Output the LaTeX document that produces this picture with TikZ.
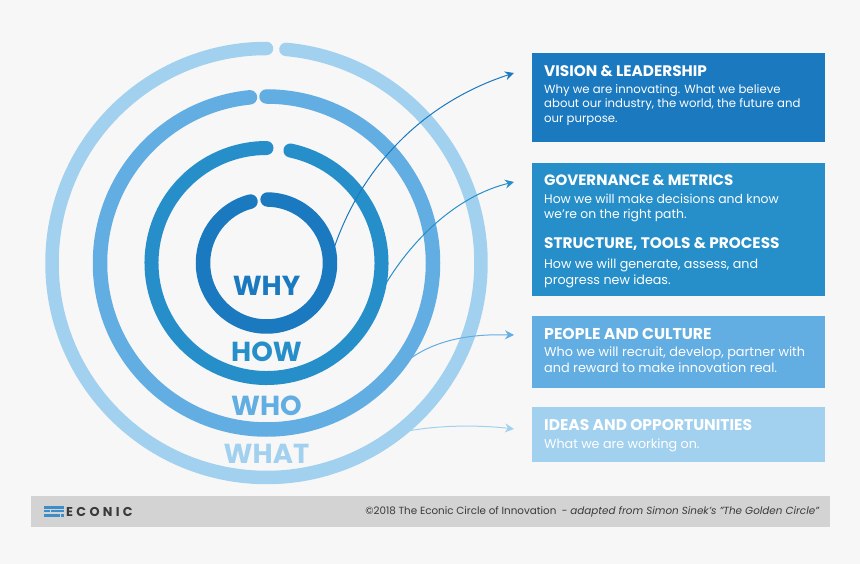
\documentclass[tikz,border=0pt]{standalone}
\usepackage{fontspec}
\setmainfont{Poppins}
\newfontfamily\econfont[LetterSpace=26]{Poppins}
\usetikzlibrary{arrows.meta}
\definecolor{bgc}{HTML}{F7F7F7}
\definecolor{cwhy}{HTML}{1B79BF}
\definecolor{chow}{HTML}{268FC9}
\definecolor{cwho}{HTML}{62ADE2}
\definecolor{cwhat}{HTML}{A2D1EF}
\definecolor{cfoot}{HTML}{D3D3D3}
\definecolor{cbody}{HTML}{3A3A3A}
\tikzset{
  ring/.style={line cap=round,fill=none},
  panel/.style={anchor=north west,inner sep=0pt,outer sep=0pt,draw=none},
  head/.style={anchor=west,inner sep=0pt,text=white,font=\fontsize{#1}{16}\selectfont\bfseries},
  head/.default=15.3,
  body/.style={anchor=north west,inner sep=0pt,text=white,align=left,font=\fontsize{#1}{15.7}\selectfont},
  body/.default=12.7,
  big/.style={inner sep=0pt,font=\fontsize{27.5}{29}\selectfont\bfseries},
  link/.style={line width=1pt,-{Stealth[length=9pt,width=9pt,inset=3pt]}},
}
\begin{document}
\begin{tikzpicture}[x=1pt,y=-1pt]
\useasboundingbox (0,0) rectangle (860,564);
\fill[bgc] (0,0) rectangle (860,564);
\coordinate (c) at (266.5,263);
% rings
\draw[ring,cwhat,line width=13.5pt] (c) ++(84.8:214.5pt) arc[start angle=84.8,end angle=-270,radius=214.5pt];
\draw[ring,cwho,line width=14.5pt] (c) ++(90:166.5pt) arc[start angle=90,end angle=-264.3,radius=166.5pt];
\draw[ring,chow,line width=14pt] (c) ++(78:115pt) arc[start angle=78,end angle=-270,radius=115pt];
\draw[ring,cwhy,line width=14.5pt] (c) ++(89:63.5pt) arc[start angle=89,end angle=-255.4,radius=63.5pt];
% ring labels
\node[big,text=cwhy] (why) at (266.5,285.5) {WHY};
\node[big,text=chow] (how) at (266.5,351.5) {HOW};
\node[big,text=cwho] (who) at (266.5,405.5) {WHO};
\node[big,text=cwhat] (what) at (266.5,453.5) {WHAT};
% panels
\node[panel,fill=cwhy,minimum width=293pt,minimum height=89pt] (vision) at (532,53) {};
\node[panel,fill=chow,minimum width=293pt,minimum height=133pt] (gov) at (532,163) {};
\node[panel,fill=cwho,minimum width=293pt,minimum height=72pt] (people) at (532,316) {};
\node[panel,fill=cwhat,minimum width=293pt,minimum height=55pt] (ideas) at (532,407) {};
\node[head] (h1) at (544,71) {VISION \& LEADERSHIP};
\node[body=11.7,font=\fontsize{11.7}{14.7}\selectfont] (b1) at (544,84) {Why we are innovating. What we believe\\about our industry, the world, the future and\\our purpose.};
\node[head=15] (h2) at (544,180.5) {GOVERNANCE \& METRICS};
\node[body=12.4] (b2) at (544,193.5) {How we will make decisions and know\\we’re on the right path.};
\node[head] (h3) at (544,244.5) {STRUCTURE, TOOLS \& PROCESS};
\node[body] (b3) at (544,258.5) {How we will generate, assess, and\\progress new ideas.};
\node[head=15.7] (h4) at (544,334) {PEOPLE AND CULTURE};
\node[body=12.85] (b4) at (544,347) {Who we will recruit, develop, partner with\\and reward to make innovation real.};
\node[head=15.5] (h5) at (544,425.5) {IDEAS AND OPPORTUNITIES};
\node[body] (b5) at (544,439) {What we are working on.};
% connectors
\coordinate (s1) at (334,248); \coordinate (e1) at (514,73);
\coordinate (s2) at (385,285); \coordinate (e2) at (514,182);
\coordinate (s3) at (411,358); \coordinate (e3) at (514,335);
\coordinate (s4) at (408,431); \coordinate (e4) at (514,429);
\draw[link,cwhy] (s1) .. controls (368,150) and (440,97) .. (e1);
\draw[link,chow] (s2) .. controls (415,235) and (460,195) .. (e2);
\draw[link,cwho] (s3) .. controls (440,338) and (475,334) .. (e3);
\draw[link,cwhat] (s4) .. controls (440,425) and (480,425) .. (e4);
% footer
\node[panel,fill=cfoot,minimum width=799pt,minimum height=31pt] (foot) at (31,496) {};
\fill[cwhy!85!white] (43.5,506) rectangle (64,508.5);
\fill[cwhy!85!white] (43.5,509.8) rectangle (50,512.3);
\fill[cwhy!85!white] (51,509.8) rectangle (64,512.3);
\fill[cwhy!85!white] (43.5,513.6) rectangle (60,516.5);
\fill[cwhy!85!white] (61,513.6) rectangle (64,516.5);
\node[anchor=west,inner sep=0pt,text=cbody,font=\fontsize{12.8}{14}\selectfont\econfont\bfseries] (brand) at (66,512) {ECONIC};
\node[anchor=east,inner sep=0pt,text=cbody,font=\fontsize{10.35}{12}\selectfont] (credit) at (820,512) {©2018 The Econic Circle of Innovation\ \ - \textit{adapted from Simon Sinek’s ”The Golden Circle”}};
\end{tikzpicture}
\end{document}
